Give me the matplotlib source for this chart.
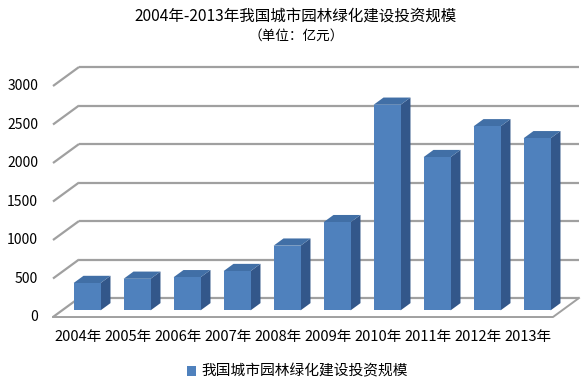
import matplotlib.pyplot as plt
from matplotlib.patches import Polygon, Rectangle

plt.rcParams['font.family'] = ['Noto Sans CJK SC', 'DejaVu Sans']

# 数据（亿元）
years = ['2004年', '2005年', '2006年', '2007年', '2008年',
         '2009年', '2010年', '2011年', '2012年', '2013年']
values = [355, 410, 430, 510, 840, 1145, 2670, 1990, 2390, 2235]
yticks = [0, 500, 1000, 1500, 2000, 2500, 3000]
title = '2004年-2013年我国城市园林绿化建设投资规模'
subtitle = '（单位：亿元）'
series_name = '我国城市园林绿化建设投资规模'

# 伪3D参数
DX = 0.52        # 深度方向的水平偏移（类别单位）
DY = 246.75      # 深度方向的垂直偏移（数值单位）
d_front = 0.35   # 柱子前面所在深度
d_depth = 0.38   # 柱子厚度
bar_w = 0.54

col_front = '#4f81bd'
col_top = '#416fa6'
col_side = '#33578a'
col_grid = '#a0a0a0'

fig = plt.figure(figsize=(5.82, 3.87), dpi=100)
ax = fig.add_axes([0, 0, 1, 1])
ax.set_xlim(-1.56, 10.08)
ax.set_ylim(-909, 4117)
ax.axis('off')

x_left = -0.5
x_right = len(years) - 0.5

# 背景网格线（左侧斜线 + 后墙横线）
for v in yticks:
    ax.plot([x_left, x_left + DX], [v, v + DY], color=col_grid, lw=1.6,
            solid_capstyle='butt', zorder=1)
    ax.plot([x_left + DX, x_right + DX], [v + DY, v + DY], color=col_grid,
            lw=1.6, solid_capstyle='butt', zorder=1)

# 底面
ax.plot([x_left, x_right, x_right + DX], [0, 0, DY], color=col_grid, lw=1.4,
        zorder=1)

# 柱子
for i, v in enumerate(values):
    xl = i + d_front * DX - bar_w / 2
    xr = xl + bar_w
    yb = d_front * DY
    yt = v + d_front * DY
    ddx = d_depth * DX
    ddy = d_depth * DY
    ax.add_patch(Polygon([(xr, yb), (xr, yt), (xr + ddx, yt + ddy),
                          (xr + ddx, yb + ddy)], closed=True,
                         facecolor=col_side, edgecolor='none', zorder=3))
    ax.add_patch(Polygon([(xl, yt), (xr, yt), (xr + ddx, yt + ddy),
                          (xl + ddx, yt + ddy)], closed=True,
                         facecolor=col_top, edgecolor='none', zorder=3))
    ax.add_patch(Rectangle((xl, yb), bar_w, v, facecolor=col_front,
                           edgecolor='none', zorder=4))

# 刻度标签
for v in yticks:
    ax.text(-0.8, v, str(v), ha='right', va='center', fontsize=10,
            color='#000000')
for i, lab in enumerate(years):
    ax.text(i, -260, lab, ha='center', va='center', fontsize=10.5,
            color='#000000')

# 标题
fig.text(296 / 582, 1 - 16 / 387, title, ha='center', va='center',
         fontsize=11.2)
fig.text(296 / 582, 1 - 36 / 387, subtitle, ha='center', va='center',
         fontsize=9.8)

# 图例
fig.patches.append(Rectangle((187 / 582, 1 - 376 / 387), 8.5 / 582, 10 / 387,
                             transform=fig.transFigure, facecolor=col_front,
                             edgecolor='none'))
fig.text(201 / 582, 1 - 371 / 387, series_name, ha='left', va='center',
         fontsize=10.6)

fig.savefig('out.png', dpi=100)
